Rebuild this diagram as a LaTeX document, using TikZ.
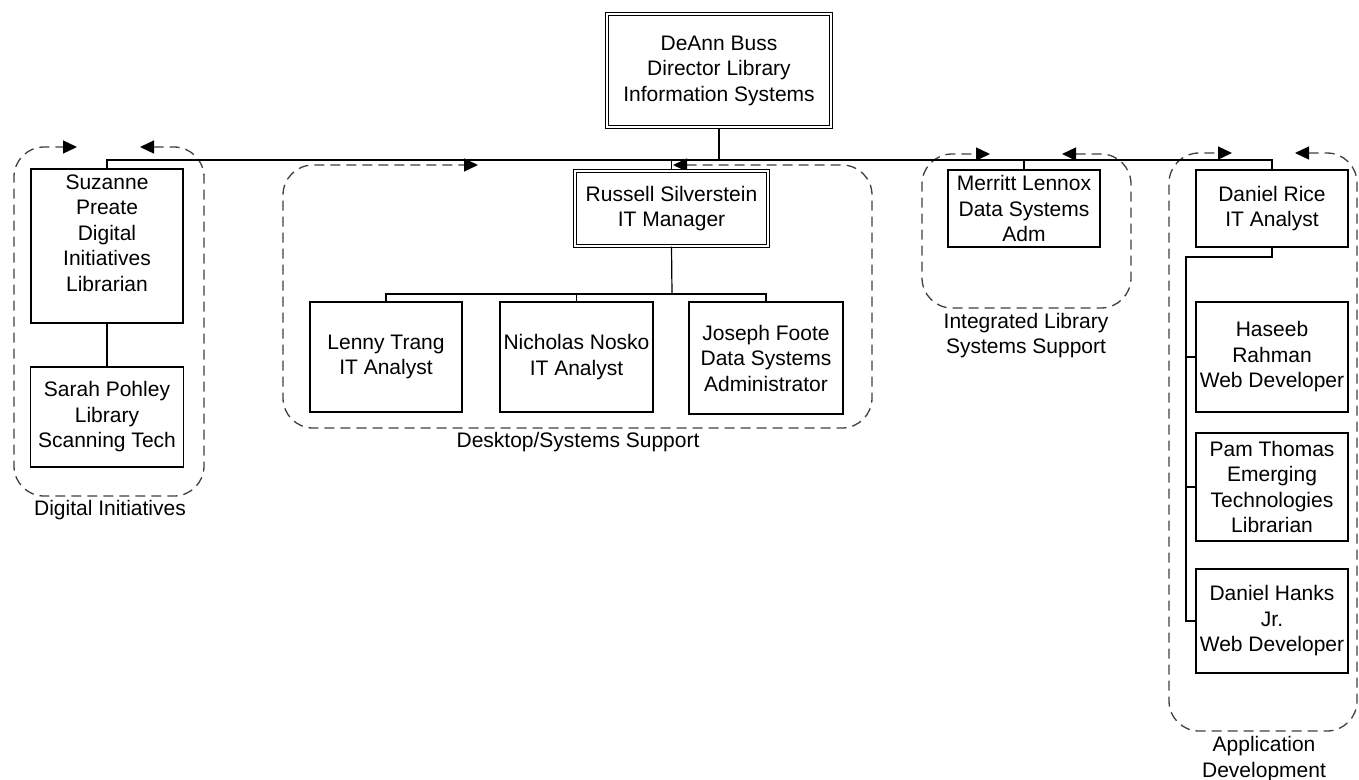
\documentclass[tikz,border=0pt]{standalone}
\usepackage{fontspec}
\setmainfont{Liberation Sans}
\usetikzlibrary{arrows.meta}
\begin{document}
\begin{tikzpicture}[x=1pt,y=-1pt,
  every node/.style={font=\fontsize{21}{25.5}\selectfont, text=black},
  box/.style={draw, line width=1.2pt, inner sep=0pt, align=center, rectangle},
  dbox/.style={box, double, double distance=2.4pt, line width=1.1pt},
  txt/.style={inner sep=0pt, align=center},
  conn/.style={line width=1.2pt},
  thickconn/.style={line width=2.4pt},
  grp/.style={draw=black!75, line width=1.3pt, dash pattern=on 10pt off 6pt, rounded corners=30pt,
    arrows={Triangle[length=14pt,width=13pt,color=black]-Triangle[length=14pt,width=13pt,color=black]}}
]
\fill[white] (0,0) rectangle (1359,779);
\useasboundingbox (0,0) rectangle (1359,779);

% group outlines
\draw[grp] (140,147) -- (204,147) -- (204,496) -- (14,496) -- (14,147) -- (77,147);
\draw[grp] (673,165) -- (872,165) -- (872,428) -- (283,428) -- (283,165) -- (478,165);
\draw[grp] (1062,154) -- (1131,154) -- (1131,308) -- (922,308) -- (922,154) -- (990,154);
\draw[grp] (1295,153) -- (1357,153) -- (1357,731) -- (1169,731) -- (1169,153) -- (1232,153);

% group labels
\node[txt] (lblDI) at (110,510) {Digital Initiatives};
\node[txt] (lblDS) at (578,442) {Desktop/Systems Support};
\node[txt] (lblIL) at (1026,335.5) {Integrated Library\\Systems Support};
\node[txt] (lblAD) at (1264,759) {Application\\Development};

% boxes
\node[dbox, minimum width=224pt, minimum height=113pt] (deann) at (719,70.5)
  {DeAnn Buss\\Director Library\\Information Systems};
\node[dbox, minimum width=193pt, minimum height=75pt] (russell) at (671.5,208.5)
  {Russell Silverstein\\IT Manager};
\node[box, minimum width=152pt, minimum height=154pt] (suz) at (107,246) {};
\node[txt] (suztxt) at (107,233) {Suzanne\\Preate\\Digital\\Initiatives\\Librarian};
\node[box, minimum width=153pt, minimum height=100pt] (sarah) at (107,417)
  {Sarah Pohley\\Library\\Scanning Tech};
\node[box, minimum width=152pt, minimum height=110pt] (lenny) at (386,357)
  {Lenny Trang\\IT Analyst};
\node[box, minimum width=153pt, minimum height=110pt] (nick) at (576.5,357)
  {Nicholas Nosko\\IT Analyst};
\node[box, minimum width=154pt, minimum height=112pt] (joseph) at (766,358)
  {Joseph Foote\\Data Systems\\Administrator};
\node[box, minimum width=152pt, minimum height=77pt] (merritt) at (1024,208.5)
  {Merritt Lennox\\Data Systems\\Adm};
\node[box, minimum width=152pt, minimum height=77pt] (rice) at (1272,208.5)
  {Daniel Rice\\IT Analyst};
\node[box, minimum width=152pt, minimum height=110pt] (haseeb) at (1272,357)
  {Haseeb\\Rahman\\Web Developer};
\node[box, minimum width=152pt, minimum height=108pt] (pam) at (1272,487)
  {Pam Thomas\\Emerging\\Technologies\\Librarian};
\node[box, minimum width=152pt, minimum height=104pt] (hanks) at (1272,621)
  {Daniel Hanks\\Jr.\\Web Developer};

% connectors
\coordinate (topbus) at (719,160);
\draw[conn] (topbus) -| (suz.north);
\draw[conn] (topbus) -| (russell.north);
\draw[thickconn] (deann.south) -- (topbus) -| (rice.north);
\draw[thickconn] (topbus) -| (merritt.north);

\draw[conn] (suz.south) -- (sarah.north);

\coordinate (dsbus) at (672,294);
\draw[conn] (russell.south) -- (dsbus);
\draw[conn] (dsbus) -| (lenny.north);
\draw[conn] (dsbus) -| (nick.north);
\draw[conn] (dsbus) -| (joseph.north);

\coordinate (appbus) at (1186,257);
\draw[conn] (rice.south) |- (appbus) |- (hanks.west);
\draw[conn] (appbus) |- (haseeb.west);
\draw[conn] (appbus) |- (pam.west);
\end{tikzpicture}
\end{document}
